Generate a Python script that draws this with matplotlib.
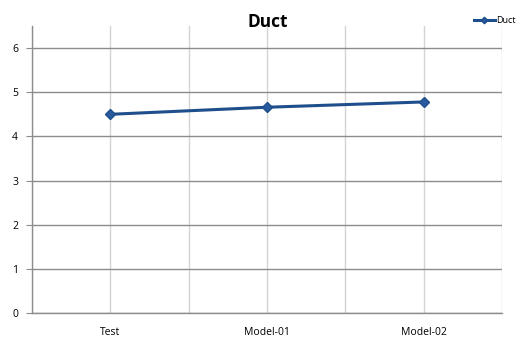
import matplotlib
matplotlib.use("Agg")
import matplotlib.pyplot as plt
from matplotlib.ticker import MultipleLocator

categories = ["Test", "Model-01", "Model-02"]
duct = [4.5, 4.66, 4.78]
y_ticks = [0, 1, 2, 3, 4, 5, 6]

plt.rcParams['font.family'] = ['Open Sans', 'DejaVu Sans']

fig = plt.figure(figsize=(5.2, 3.38), dpi=100)
ax = fig.add_axes([32 / 520, 1 - 313 / 338, 470 / 520, (313 - 26) / 338])

x = list(range(len(categories)))
ax.plot(x, duct, color="#1F4E8C", linewidth=2.2, marker="D", markersize=5.5,
        markerfacecolor="#2A5A9E", markeredgecolor="#1F4E8C", label="Duct", zorder=3)

ax.set_xlim(-0.5, len(categories) - 0.5)
ax.set_ylim(0, 6.5)
ax.set_yticks(y_ticks)
ax.set_xticks(x)
ax.set_xticklabels(categories)
ax.xaxis.set_minor_locator(MultipleLocator(0.5))

ax.grid(True, axis="y", which="major", color="#8c8c8c", linewidth=1.0)
ax.grid(True, axis="x", which="both", color="#d4d4d4", linewidth=1.0)
ax.set_axisbelow(True)

for side in ("top", "right"):
    ax.spines[side].set_visible(False)
for side in ("left", "bottom"):
    ax.spines[side].set_color("#8c8c8c")
    ax.spines[side].set_linewidth(1.0)

ax.tick_params(axis="y", length=4, color="#8c8c8c", labelsize=7.5, pad=6)
ax.tick_params(axis="x", which="both", length=0, labelsize=7.5, pad=10)

fig.text(268 / 520, 1 - 22 / 338, "Duct", ha="center", va="center",
         fontsize=12.5, fontweight="bold")

ax.legend(loc="upper left", bbox_to_anchor=(474 / 520, 1 - 16 / 338),
          bbox_transform=fig.transFigure, frameon=False, fontsize=6.5,
          handlelength=2.3, handletextpad=0.15, borderpad=0, borderaxespad=0,
          markerscale=0.6)

fig.savefig("out.png", dpi=100)
